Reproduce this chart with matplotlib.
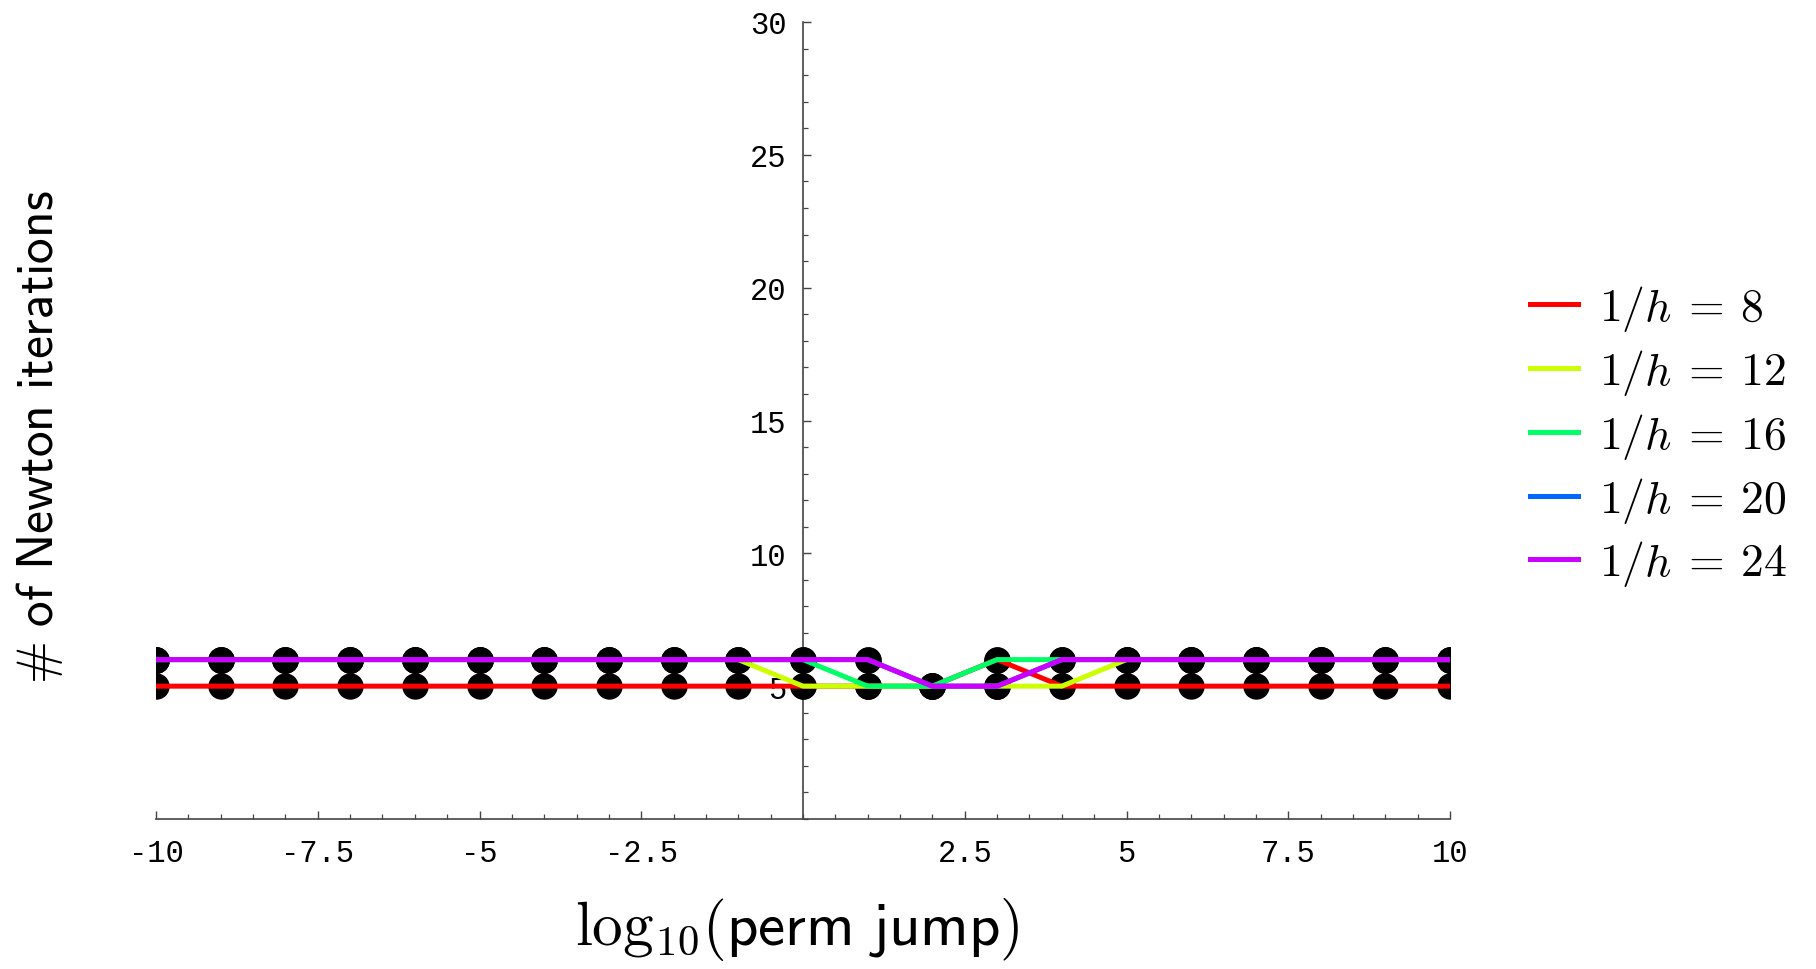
import matplotlib
matplotlib.use('Agg')
import matplotlib.pyplot as plt
from matplotlib.ticker import MultipleLocator, FixedLocator
import numpy as np

plt.rcParams['mathtext.fontset'] = 'cm'

# log10 of the permeability jump
jump = [-10, -9, -8, -7, -6, -5, -4, -3, -2, -1, 0, 1, 2, 3, 4, 5, 6, 7, 8, 9, 10]

# number of Newton iterations for each mesh
it_8  = [5, 5, 5, 5, 5, 5, 5, 5, 5, 5, 5, 5, 5, 6, 5, 5, 5, 5, 5, 5, 5]
it_12 = [6, 6, 6, 6, 6, 6, 6, 6, 6, 6, 5, 5, 5, 5, 5, 6, 6, 6, 6, 6, 6]
it_16 = [6, 6, 6, 6, 6, 6, 6, 6, 6, 6, 6, 5, 5, 6, 6, 6, 6, 6, 6, 6, 6]
it_20 = [6, 6, 6, 6, 6, 6, 6, 6, 6, 6, 6, 6, 5, 5, 6, 6, 6, 6, 6, 6, 6]
it_24 = [6, 6, 6, 6, 6, 6, 6, 6, 6, 6, 6, 6, 5, 5, 6, 6, 6, 6, 6, 6, 6]

series = [it_8, it_12, it_16, it_20, it_24]
labels = [r'$1/h\:=\:8$', r'$1/h\:=\:12$', r'$1/h\:=\:16$',
          r'$1/h\:=\:20$', r'$1/h\:=\:24$']
colors = ['#ff0000', '#ccff00', '#00ff66', '#0066ff', '#cc00ff']

xticks = [-10, -7.5, -5, -2.5, 2.5, 5, 7.5, 10]
xticklabels = ['-10', '-7.5', '-5', '-2.5', '2.5', '5', '7.5', '10']
yticks = [5, 10, 15, 20, 25, 30]

fig = plt.figure(figsize=(18.16, 9.70), dpi=100)
ax = fig.add_axes([156/1816, 1 - 820/970, (1450 - 156)/1816, (820 - 23)/970])

axis_color = '#444444'

# dots under the lines
for s in series:
    ax.plot(jump, s, linestyle='none', marker='o', markersize=18,
            color='black', zorder=3)

handles = []
for s, c, lab in zip(series, colors, labels):
    h, = ax.plot(jump, s, color=c, linewidth=3.6, label=lab, zorder=4)
    handles.append(h)

ax.set_xlim(-10, 10)
ax.set_ylim(0, 30)

for side in ['top', 'right']:
    ax.spines[side].set_visible(False)
ax.spines['left'].set_position(('data', 0))
ax.spines['bottom'].set_position(('data', 0))
ax.spines['left'].set_color(axis_color)
ax.spines['bottom'].set_color(axis_color)
ax.spines['left'].set_linewidth(1.2)
ax.spines['bottom'].set_linewidth(1.2)

ax.xaxis.set_major_locator(FixedLocator(xticks))
ax.set_xticklabels(xticklabels)
ax.xaxis.set_minor_locator(MultipleLocator(0.5))
ax.yaxis.set_major_locator(FixedLocator(yticks))
ax.yaxis.set_minor_locator(MultipleLocator(1))

ax.tick_params(axis='both', which='major', direction='in', length=6,
               width=1.0, color=axis_color, labelsize=22)
ax.tick_params(axis='both', which='minor', direction='in', length=3.5,
               width=0.9, color=axis_color)
ax.tick_params(axis='x', pad=14)
ax.tick_params(axis='y', pad=12)
for lab in ax.get_xticklabels() + ax.get_yticklabels():
    lab.set_family('Liberation Mono')

ax.patch.set_visible(False)

fig.text(797/1816, 1 - 930/970, r'$\mathrm{log}_{10}(\mathsf{perm\ jump})$',
         fontsize=44, ha='center', va='center')
fig.text(40/1816, 1 - 437/970, r'$\mathsf{\#\ of\ Newton\ iterations}$',
         fontsize=37, rotation=90, ha='center', va='center')

fig.legend(handles=handles, loc='center left',
           bbox_to_anchor=(1512/1816, 1 - 437/970), frameon=False,
           fontsize=33, handlelength=1.05, handletextpad=0.45,
           labelspacing=0.3, borderaxespad=0)

fig.savefig('out.png', dpi=100)
